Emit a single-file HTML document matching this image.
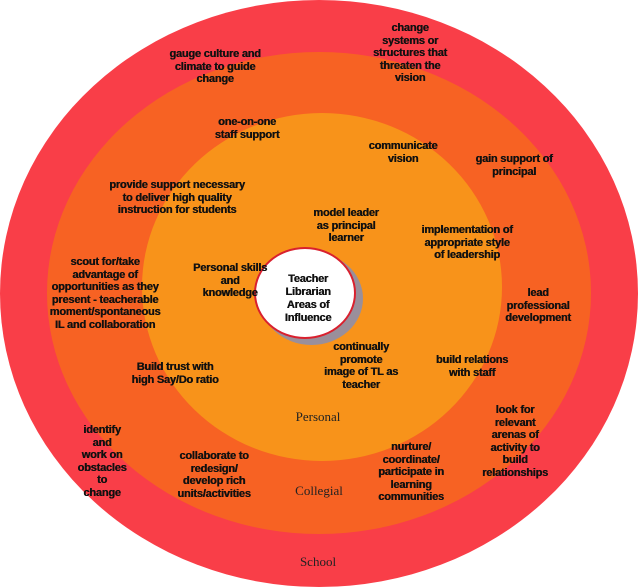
<!DOCTYPE html>
<html><head><meta charset="utf-8"><style>
html,body{margin:0;padding:0;background:#fff;}
#c{position:relative;width:638px;height:587px;overflow:hidden;}
.e{position:absolute;border-radius:50%;}
.t{position:absolute;transform:translateX(-50%);text-align:center;white-space:nowrap;font-family:"Liberation Sans",sans-serif;font-weight:bold;font-size:11px;line-height:12.5px;color:#111;letter-spacing:-0.2px;text-shadow:0.4px 0 0 #111;}
.s{position:absolute;transform:translateX(-50%);font-family:"Liberation Serif",serif;font-size:13px;color:#222;white-space:nowrap;}
</style></head><body><div id="c">
<div class="e" style="left:0;top:0;width:638px;height:587px;background:#f93e48;"></div>
<div class="e" style="left:47px;top:52px;width:544px;height:482px;background:#f76223;"></div>
<div class="e" style="left:142px;top:113px;width:360px;height:348px;background:#f8931a;"></div>
<div class="e" style="left:260px;top:252px;width:103px;height:93px;background:#9a8f9a;"></div>
<div class="e" style="left:254px;top:247px;width:102px;height:92px;background:#fff;border:2px solid #d9202e;box-sizing:border-box;"></div>
<div class="t" style="left:308px;top:273px;font-size:11px;line-height:13px;">Teacher<br>Librarian<br>Areas of<br>Influence</div>

<div class="t" style="left:410px;top:22px;">change<br>systems or<br>structures that<br>threaten the<br>vision</div>
<div class="t" style="left:215px;top:48px;">gauge culture and<br>climate to guide<br>change</div>
<div class="t" style="left:247px;top:116px;">one-on-one<br>staff support</div>
<div class="t" style="left:403px;top:140px;">communicate<br>vision</div>
<div class="t" style="left:514px;top:153px;">gain support of<br>principal</div>
<div class="t" style="left:177px;top:179px;">provide support necessary<br>to deliver high quality<br>instruction for students</div>
<div class="t" style="left:346px;top:207px;">model leader<br>as principal<br>learner</div>
<div class="t" style="left:467px;top:224px;">implementation of<br>appropriate style<br>of leadership</div>
<div class="t" style="left:105px;top:256px;">scout for/take<br>advantage of<br>opportunities as they<br>present - teacherable<br>moment/spontaneous<br>IL and collaboration</div>
<div class="t" style="left:230px;top:262px;">Personal skills<br>and<br>knowledge</div>
<div class="t" style="left:538px;top:287px;">lead<br>professional<br>development</div>
<div class="t" style="left:361px;top:341px;">continually<br>promote<br>image of TL as<br>teacher</div>
<div class="t" style="left:472px;top:354px;">build relations<br>with staff</div>
<div class="t" style="left:175px;top:361px;">Build trust with<br>high Say/Do ratio</div>
<div class="s" style="left:318px;top:409px;">Personal</div>
<div class="t" style="left:515px;top:404px;">look for<br>relevant<br>arenas of<br>activity to<br>build<br>relationships</div>
<div class="t" style="left:102px;top:424px;">identify<br>and<br>work on<br>obstacles<br>to<br>change</div>
<div class="t" style="left:214px;top:450px;">collaborate to<br>redesign/<br>develop rich<br>units/activities</div>
<div class="t" style="left:411px;top:441px;">nurture/<br>coordinate/<br>participate in<br>learning<br>communities</div>
<div class="s" style="left:319px;top:483px;">Collegial</div>
<div class="s" style="left:318px;top:554px;">School</div>
</div></body></html>
